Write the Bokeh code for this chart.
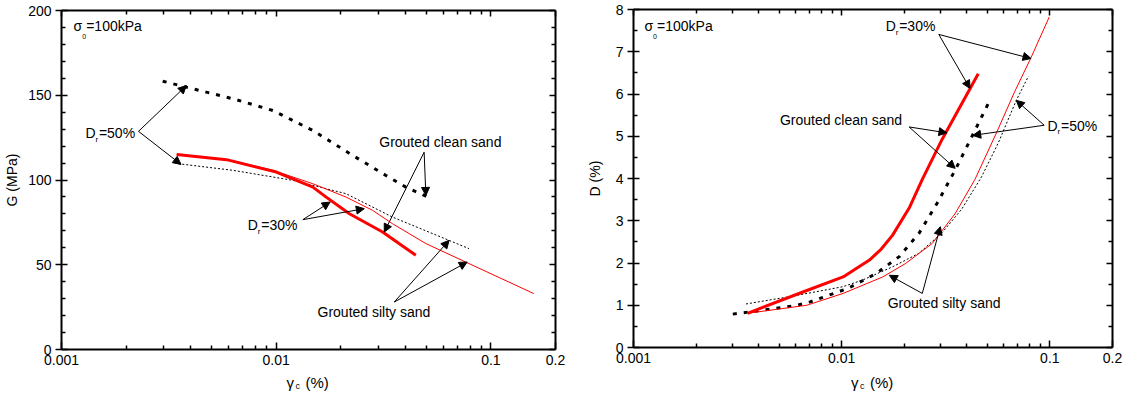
from bokeh.plotting import figure
from bokeh.models import (Range1d, FixedTicker, LogAxis, LinearAxis, Label, Arrow,
                          NormalHead, CustomJSTickFormatter)
from bokeh.layouts import row, column
from bokeh.core.properties import value
from bokeh.embed import file_html
from bokeh.resources import INLINE

FONT = "Liberation Sans"

# ---------------- data: left panel, G (MPa) vs gamma_c (%) ----------------
g_clean50_x = [0.00296, 0.00383, 0.0063, 0.00966, 0.01482, 0.02272, 0.03246, 0.0402, 0.0516]
g_clean50_y = [158.3, 154.7, 147.9, 141.0, 129.2, 114.5, 102.7, 95.8, 89.6]

g_clean30_x = [0.00344, 0.00587, 0.01002, 0.01482, 0.0171, 0.02193, 0.0313, 0.0447]
g_clean30_y = [115.1, 112.0, 104.7, 95.8, 89.9, 80.1, 69.3, 55.6]

g_silty30_x = [0.00344, 0.0063, 0.00966, 0.01482, 0.02117, 0.02813, 0.03483, 0.0498, 0.0763, 0.1584]
g_silty30_y = [115.1, 111.3, 105.7, 97.8, 89.9, 82.1, 74.2, 62.5, 51.6, 33.0]

g_silty50_x = [0.0035, 0.0063, 0.01197, 0.02117, 0.03483, 0.0638, 0.0791]
g_silty50_y = [109.6, 105.7, 99.8, 91.9, 78.1, 64.4, 59.5]

# ---------------- data: right panel, D (%) vs gamma_c (%) ----------------
d_clean30_x = [0.00353, 0.00656, 0.01016, 0.0136, 0.0155, 0.01757, 0.0211, 0.0244, 0.0304, 0.0453]
d_clean30_y = [0.81, 1.32, 1.67, 2.07, 2.33, 2.66, 3.30, 3.98, 4.93, 6.48]

d_clean50_x = [0.003, 0.00424, 0.006, 0.00706, 0.01074, 0.01463, 0.0189, 0.0235, 0.0287, 0.0351, 0.0437, 0.0515]
d_clean50_y = [0.79, 0.89, 0.99, 1.08, 1.40, 1.75, 2.15, 2.70, 3.41, 4.20, 5.14, 5.85]

d_silty30_x = [0.00353, 0.0068, 0.01016, 0.01575, 0.0203, 0.0272, 0.0351, 0.0437, 0.0554, 0.0677, 0.0812, 0.0993]
d_silty30_y = [0.81, 1.0, 1.28, 1.67, 1.99, 2.46, 3.17, 3.98, 5.08, 6.05, 6.86, 7.82]

d_silty50_x = [0.00347, 0.00588, 0.01016, 0.01266, 0.01757, 0.0235, 0.0304, 0.0378, 0.047, 0.0564, 0.069, 0.0789]
d_silty50_y = [1.03, 1.22, 1.44, 1.60, 1.91, 2.23, 2.72, 3.28, 4.04, 4.83, 5.85, 6.42]

# ---------------- ticks ----------------
x_major = [0.001, 0.01, 0.1, 0.2]
x_minor = [0.002, 0.003, 0.004, 0.005, 0.006, 0.007, 0.008, 0.009,
           0.02, 0.03, 0.04, 0.05, 0.06, 0.07, 0.08, 0.09]
g_major = [0, 50, 100, 150, 200]
g_minor = [10, 20, 30, 40, 60, 70, 80, 90, 110, 120, 130, 140, 160, 170, 180, 190]
d_major = [0, 1, 2, 3, 4, 5, 6, 7, 8]
d_minor = [0.5, 1.5, 2.5, 3.5, 4.5, 5.5, 6.5, 7.5]

# ---------------- annotation positions (data coords) ----------------
left_notes = {
    "sigma": (0.001137, 190.8),
    "dr50": (0.001292, 127.5, 0.002284, 128.7, [(0.003815, 155.7), (0.003604, 109.2)]),
    "dr30": (0.007375, 73.5, 0.01331, 76.6, [(0.01784, 87.0), (0.02574, 83.1)]),
    "clean": (0.0302, 122.2, 0.04888, 116.4, [(0.03187, 69.3), (0.0498, 90.9)]),
    "silty": (0.01558, 22.4, 0.03548, 28.0, [(0.0639, 64.4), (0.0776, 51.6)]),
}
right_notes = {
    "sigma": (0.001128, 7.61),
    "dr30": (0.01627, 7.61, 0.02928, 7.41, [(0.04137, 6.13), (0.08124, 6.84)]),
    "clean": (0.005049, 5.38, 0.02109, 5.22, [(0.03205, 5.08), (0.0351, 4.24)]),
    "dr50": (0.0975, 5.25, 0.09397, 5.26, [(0.06895, 5.85), (0.04261, 5.02)]),
    "silty": (0.01663, 1.05, 0.02439, 1.28, [(0.01694, 1.71), (0.02979, 2.86)]),
}


def lab(p, x, y, text, size="14px", xo=0, yo=0, baseline="middle", align="left"):
    p.add_layout(Label(x=x, y=y, text=text, x_offset=xo, y_offset=yo,
                       text_font=FONT, text_font_size=size, text_color="black",
                       text_baseline=baseline, text_align=align))


def arrows(p, x0, y0, tips):
    for (x1, y1) in tips:
        p.add_layout(Arrow(x_start=x0, y_start=y0, x_end=x1, y_end=y1,
                           line_color="black", line_width=1,
                           end=NormalHead(size=8, fill_color="black",
                                          line_color="black", line_width=1)))


def style_axis(ax, tin, tout, mtin, labels=True):
    ax.axis_line_color = "black"
    ax.axis_line_width = 2
    ax.major_tick_line_color = "black"
    ax.minor_tick_line_color = "black"
    ax.major_tick_line_width = 1.5
    ax.minor_tick_line_width = 1.5
    ax.major_tick_in = tin
    ax.major_tick_out = tout
    ax.minor_tick_in = mtin
    ax.minor_tick_out = 0
    if labels:
        ax.major_label_text_font = FONT
        ax.major_label_text_font_size = "14px"
        ax.major_label_text_color = "black"
    else:
        ax.major_label_text_font_size = "0px"
        ax.major_label_text_color = None
        ax.major_label_standoff = 0


def make_panel(width, yrange, ymaj, ymin, ylabel, bl, br, bt, bb, alstand):
    p = figure(width=width, height=371, x_axis_type="log",
               x_range=Range1d(0.001, 0.2), y_range=Range1d(*yrange),
               output_backend="svg", toolbar_location=None,
               min_border_left=bl, min_border_right=br,
               min_border_top=bt, min_border_bottom=bb)
    p.grid.visible = False
    p.outline_line_color = None

    fmt = CustomJSTickFormatter(code="return String(tick);")

    xa = p.xaxis[0]
    xa.ticker = FixedTicker(ticks=x_major, minor_ticks=x_minor)
    xa.formatter = fmt
    style_axis(xa, 7, 0, 4)
    xa.major_label_standoff = 5

    ya = p.yaxis[0]
    ya.ticker = FixedTicker(ticks=ymaj, minor_ticks=ymin)
    style_axis(ya, 6, 6, 4)
    ya.major_label_standoff = 4
    ya.axis_label = ylabel
    ya.axis_label_text_font = FONT
    ya.axis_label_text_font_size = "14px"
    ya.axis_label_text_font_style = "normal"
    ya.axis_label_text_color = "black"
    ya.axis_label_standoff = alstand

    top = LogAxis(ticker=FixedTicker(ticks=x_major, minor_ticks=x_minor), formatter=fmt)
    style_axis(top, 6, 0, 4, labels=False)
    p.add_layout(top, "above")
    right = LinearAxis(ticker=FixedTicker(ticks=ymaj, minor_ticks=ymin))
    style_axis(right, 6, 0, 4, labels=False)
    p.add_layout(right, "right")
    return p


def xlabel_strip(p, width, bl, br):
    # strip under the panel holding the x-axis title "γc (%)"
    s = figure(width=width, height=23, x_axis_type="log", x_range=p.x_range,
               y_range=Range1d(0, 23), output_backend="svg", toolbar_location=None,
               x_axis_location=None, y_axis_location=None,
               min_border_left=bl, min_border_right=br,
               min_border_top=0, min_border_bottom=0)
    s.grid.visible = False
    s.outline_line_color = None
    xc = 0.01414
    common = dict(text_font=value(FONT), text_color="black",
                  text_baseline="alphabetic", text_align="left")
    s.text(x=[xc], y=[12], text=["\u03b3"], x_offset=-22, text_font_size="15px", **common)
    s.text(x=[xc], y=[9], text=["c"], x_offset=-13, text_font_size="9px", **common)
    s.text(x=[xc], y=[12], text=["(%)"], x_offset=-3, text_font_size="15px", **common)
    return s


def notes(p, n):
    sx, sy = n["sigma"]
    lab(p, sx, sy, "\u03c3")
    lab(p, sx, sy, "0", size="7px", xo=8.7, yo=-10.5, baseline="alphabetic")
    lab(p, sx, sy, "=100kPa", xo=12.7)
    for key in ("dr50", "dr30"):
        tx, ty, ax0, ay0, tips = n[key]
        lab(p, tx, ty, "D")
        lab(p, tx, ty, "r", size="8px", xo=10, yo=-6.3, baseline="alphabetic")
        lab(p, tx, ty, "=50%" if key == "dr50" else "=30%", xo=13.5)
        arrows(p, ax0, ay0, tips)
    for key, txt in (("clean", "Grouted clean sand"), ("silty", "Grouted silty sand")):
        tx, ty, ax0, ay0, tips = n[key]
        lab(p, tx, ty, txt)
        arrows(p, ax0, ay0, tips)


def curves(p, c50x, c50y, s50x, s50y, s30x, s30y, c30x, c30y):
    p.line(c50x, c50y, line_color="black", line_width=3, line_dash="4 7")
    p.line(s50x, s50y, line_color="black", line_width=1, line_dash="2 2")
    p.line(s30x, s30y, line_color="#ff0000", line_width=1, line_join="round")
    p.line(c30x, c30y, line_color="#ff0000", line_width=3, line_join="round")


# ---------------- left panel ----------------
pL = make_panel(583, (0, 200), g_major, g_minor, "G (MPa)", 61, 28, 10, 22, 5)
curves(pL, g_clean50_x, g_clean50_y, g_silty50_x, g_silty50_y,
       g_silty30_x, g_silty30_y, g_clean30_x, g_clean30_y)
notes(pL, left_notes)
sL = xlabel_strip(pL, 583, 61, 28)

# ---------------- right panel ----------------
pR = make_panel(539, (0, 8), d_major, d_minor, "D (%)", 45, 10, 9, 24, 10)
curves(pR, d_clean50_x, d_clean50_y, d_silty50_x, d_silty50_y,
       d_silty30_x, d_silty30_y, d_clean30_x, d_clean30_y)
notes(pR, right_notes)
sR = xlabel_strip(pR, 539, 45, 10)

layout = row(column(pL, sL), column(pR, sR))
open("out.html", "w").write(file_html(layout, INLINE))
